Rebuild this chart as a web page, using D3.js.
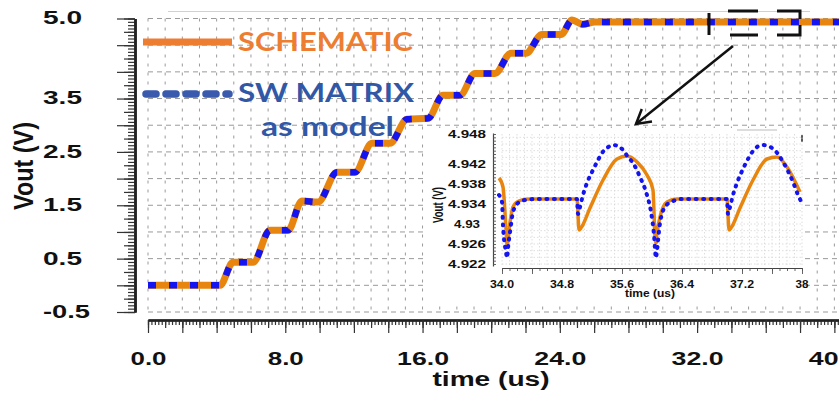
<!DOCTYPE html>
<html><head><meta charset="utf-8">
<script src="https://cdn.jsdelivr.net/npm/d3@7/dist/d3.min.js"></script>
<style>html,body{margin:0;padding:0;background:#fff;}svg{display:block;}</style>
</head><body>
<svg id="c" width="839" height="394"></svg>
<script>
// ---------- DATA ----------
const mainTime      = [0, 4.20, 4.95, 6.12, 7.11, 8.16, 8.97, 9.91, 11.01, 12.06, 13.05, 14.10, 15.09, 16.32, 17.19, 18.18, 19.06, 20.22, 21.15, 22.03, 22.96, 24.07, 24.71, 25.35, 26.05, 40.6];
const schematicMain = [0, 0, 0.43, 0.43, 1.03, 1.03, 1.58, 1.56, 2.12, 2.12, 2.66, 2.66, 3.11, 3.13, 3.56, 3.56, 3.97, 3.97, 4.35, 4.35, 4.70, 4.70, 4.97, 4.89, 4.935, 4.935];
const swMatrixMain  = [0, 0, 0.43, 0.43, 1.03, 1.03, 1.58, 1.56, 2.12, 2.12, 2.66, 2.66, 3.11, 3.13, 3.56, 3.56, 3.97, 3.97, 4.35, 4.35, 4.70, 4.70, 4.97, 4.89, 4.935, 4.935];

const insetTimeSch = [33.96, 34.013, 34.053, 34.067, 34.107, 34.147, 34.2, 34.267, 34.373, 35.0, 35.027, 35.053, 35.173, 35.347, 35.533, 35.667, 35.8, 35.933, 36.013, 36.04, 36.053, 36.067, 36.107, 36.2, 36.333, 37.0, 37.027, 37.053, 37.173, 37.347, 37.533, 37.667, 37.8, 37.973];
const schematicInset = [4.9392, 4.9374, 4.9290, 4.9258, 4.9304, 4.9334, 4.9344, 4.9348, 4.935, 4.935, 4.9288, 4.9292, 4.9332, 4.9388, 4.9430, 4.9436, 4.9424, 4.9398, 4.9368, 4.9274, 4.9262, 4.9282, 4.9314, 4.9344, 4.935, 4.935, 4.9288, 4.9292, 4.9332, 4.9388, 4.9430, 4.9434, 4.9414, 4.9364];

const insetTimeSw = [33.96, 34.0, 34.013, 34.053, 34.067, 34.08, 34.107, 34.147, 34.213, 34.307, 34.44, 35.0, 35.013, 35.04, 35.08, 35.133, 35.2, 35.267, 35.333, 35.4, 35.48, 35.547, 35.613, 35.68, 35.747, 35.84, 35.933, 35.987, 36.027, 36.053, 36.067, 36.107, 36.173, 36.28, 36.413, 37.0, 37.013, 37.04, 37.08, 37.133, 37.213, 37.28, 37.347, 37.467, 37.547, 37.6, 37.68, 37.747, 37.813, 37.88, 37.947, 38.0];
const swMatrixInset = [4.9358, 4.9344, 4.9298, 4.9244, 4.9232, 4.9252, 4.9284, 4.9324, 4.9342, 4.9348, 4.935, 4.935, 4.9320, 4.9334, 4.9358, 4.9382, 4.9404, 4.9424, 4.9442, 4.9452, 4.9458, 4.9456, 4.9448, 4.9434, 4.9422, 4.9394, 4.9358, 4.9324, 4.9278, 4.9232, 4.9248, 4.9302, 4.9334, 4.9346, 4.935, 4.935, 4.9320, 4.9334, 4.9358, 4.9382, 4.9410, 4.9430, 4.9446, 4.9458, 4.9456, 4.9452, 4.9440, 4.9424, 4.9406, 4.9384, 4.9358, 4.9342];

const yLabelVals = [5.0, 3.5, 2.5, 1.5, 0.5, -0.5];
const yLabels    = ["5.0", "3.5", "2.5", "1.5", "0.5", "-0.5"];
const xLabelVals = [0, 8, 16, 24, 32, 40];
const xLabels    = ["0.0", "8.0", "16.0", "24.0", "32.0", "40.0"];
const insetYLabelVals = [4.948, 4.942, 4.938, 4.934, 4.93, 4.926, 4.922];
const insetYLabels    = ["4.948", "4.942", "4.938", "4.934", "4.93", "4.926", "4.922"];
const insetXLabelVals = [34.0, 34.8, 35.6, 36.4, 37.2, 38.0];
const insetXLabels    = ["34.0", "34.8", "35.6", "36.4", "37.2", "38"];
const legendNames = ["SCHEMATIC", "SW MATRIX", "as model"];

// ---------- SETUP ----------
const svg = d3.select('#c');
const FONT = "'Liberation Sans', Arial, sans-serif";
const ORANGE = '#e8850f', BLUE = '#1414f0';

const x = d3.scaleLinear().domain([0, 40.27]).range([148, 839]);
const y = d3.scaleLinear().domain([-0.5, 5]).range([312, 18.5]);
const xi = d3.scaleLinear().domain([34, 38]).range([502, 802]);
const yi = d3.scaleLinear().domain([4.922, 4.948]).range([264, 134]);

// frame top line
svg.append('line').attr('x1',168).attr('x2',810).attr('y1',11.5).attr('y2',11.5).attr('stroke','#c9d3da').attr('stroke-width',1);

// ---------- MAIN GRID ----------
const grid = svg.append('g');
grid.selectAll('line.h').data(d3.range(-0.5, 5.0001, 0.5)).join('line')
  .attr('x1', x(0)).attr('x2', 839).attr('y1', d=>y(d)).attr('y2', d=>y(d))
  .attr('stroke','#9a9a9a').attr('stroke-width',1).attr('stroke-dasharray','5,4');
grid.selectAll('line.v').data(d3.range(0, 40.5, 1)).join('line')
  .attr('x1', d=>x(d)).attr('x2', d=>x(d)).attr('y1', y(5)).attr('y2', y(-0.5))
  .attr('stroke','#9a9a9a').attr('stroke-width',1).attr('stroke-dasharray','3,6');

// ---------- MAIN AXES ----------
function styleAxis(g){ g.select('.domain').attr('stroke','#222').attr('stroke-width',2.2); g.selectAll('.tick line').attr('stroke','#333').attr('stroke-width',1.2); }
const yAx = svg.append('g').attr('transform','translate(135,0)');
yAx.append('g').call(d3.axisLeft(y).tickValues(d3.range(-0.5, 5.0001, 0.0625)).tickSize(7).tickSizeOuter(0).tickFormat('')).call(styleAxis);
yAx.append('g').call(d3.axisLeft(y).tickValues(d3.range(-0.5, 5.0001, 0.25)).tickSize(11).tickSizeOuter(0).tickFormat('')).call(styleAxis);
const yMaj = yAx.append('g').call(d3.axisLeft(y).tickValues(yLabelVals.concat([4.5,4,3,2,1,0])).tickSize(18).tickSizeOuter(0)
  .tickFormat(d => { const i = yLabelVals.indexOf(d); return i >= 0 ? yLabels[i] : ''; })).call(styleAxis);
yMaj.selectAll('.tick text').attr('x', 43-135).attr('dy','0.33em').attr('text-anchor','start')
  .attr('font-family',FONT).attr('font-weight','bold').attr('font-size',18).attr('fill','#111')
  .attr('transform','translate(0,-0.5)')
  .each(function(){ const t = d3.select(this).text(); if(t) d3.select(this).attr('textLength', t.length>3?47:39).attr('lengthAdjust','spacingAndGlyphs'); });

const xAx = svg.append('g').attr('transform','translate(0,320)');
xAx.append('g').call(d3.axisBottom(x).tickValues(d3.range(0, 40.3, 0.2)).tickSize(5).tickSizeOuter(0).tickFormat('')).call(styleAxis);
xAx.append('g').call(d3.axisBottom(x).tickValues(d3.range(0, 40.3, 1)).tickSize(8).tickSizeOuter(0).tickFormat('')).call(styleAxis);
const xMaj = xAx.append('g').call(d3.axisBottom(x).tickValues(d3.range(0, 40.3, 2)).tickSize(13).tickSizeOuter(0)
  .tickFormat(d => { const i = xLabelVals.indexOf(d); return i >= 0 ? xLabels[i] : ''; })).call(styleAxis);
xMaj.selectAll('.tick text').attr('y', 45).attr('dy', 0)
  .attr('font-family',FONT).attr('font-weight','bold').attr('font-size',18).attr('fill','#111')
  .each(function(){ const t = d3.select(this).text(); if(t) d3.select(this).attr('textLength', t.length>3?52:36).attr('lengthAdjust','spacingAndGlyphs'); });

// axis titles
svg.append('text').attr('x',491).attr('y',386).attr('text-anchor','middle')
  .attr('font-family',FONT).attr('font-weight','bold').attr('font-size',20).attr('fill','#111')
  .attr('textLength',117).attr('lengthAdjust','spacingAndGlyphs').text('time (us)');
svg.append('text').attr('transform','translate(33,166) scale(1.45,1) rotate(-90)').attr('text-anchor','middle')
  .attr('font-family',FONT).attr('font-weight','bold').attr('font-size',19).attr('fill','#111')
  .attr('textLength',88).attr('lengthAdjust','spacingAndGlyphs').text('Vout (V)');

// ---------- MAIN CURVES ----------
const mainLine = (vals) => d3.line().x((d,i)=>x(mainTime[i])).y(d=>y(d)).curve(d3.curveMonotoneX)(vals);
svg.append('path').attr('d', mainLine(schematicMain)).attr('fill','none').attr('stroke',ORANGE).attr('stroke-width',7);
svg.append('path').attr('d', mainLine(swMatrixMain)).attr('fill','none').attr('stroke',BLUE).attr('stroke-width',6.5).attr('stroke-dasharray','8,13');

// ---------- LEGEND ----------
svg.append('line').attr('x1',143).attr('x2',232).attr('y1',42).attr('y2',42).attr('stroke','#ed7d31').attr('stroke-width',7);
svg.append('line').attr('x1',146).attr('x2',229).attr('y1',94).attr('y2',94).attr('stroke','#3a5aae').attr('stroke-width',7.5).attr('stroke-dasharray','10,10').attr('stroke-linecap','round');
const LFONT = "Lato, 'Open Sans', sans-serif";
svg.append('text').attr('x',238).attr('y',51).attr('font-family',LFONT).attr('font-weight','bold').attr('font-size',26).attr('fill','#ed7d31')
  .attr('textLength',175).attr('lengthAdjust','spacingAndGlyphs').text(legendNames[0]);
svg.append('text').attr('x',238).attr('y',102).attr('font-family',LFONT).attr('font-weight','bold').attr('font-size',26).attr('fill','#3158a6')
  .attr('textLength',176).attr('lengthAdjust','spacingAndGlyphs').text(legendNames[1]);
svg.append('text').attr('x',261).attr('y',136).attr('font-family',LFONT).attr('font-weight','bold').attr('font-size',26).attr('fill','#3158a6')
  .attr('textLength',133).attr('lengthAdjust','spacingAndGlyphs').text(legendNames[2]);

// ---------- ZOOM BOX & ARROW ----------
const deco = svg.append('g').attr('fill','none').attr('stroke','#111').attr('stroke-width',3);
deco.append('path').attr('d','M709,13 V35');
deco.append('path').attr('d','M728,11 H758 M777,11 H800 V19 M800,25 V35 H777 M758,35 H730');
deco.append('line').attr('x1',733).attr('y1',46).attr('x2',636).attr('y2',124).attr('stroke-width',2.5);
deco.append('path').attr('d','M641.8,109 L636,124 L652,121.6').attr('stroke-width',2.5);

// ---------- INSET ----------
const ins = svg.append('g');
ins.append('rect').attr('x',427).attr('y',128).attr('width',377).attr('height',173).attr('fill','#fff');
ins.append('line').attr('x1',737).attr('x2',777).attr('y1',130).attr('y2',130).attr('stroke','#bbb').attr('stroke-width',1);
ins.append('line').attr('x1',802).attr('x2',802).attr('y1',135).attr('y2',142).attr('stroke','#222').attr('stroke-width',1.5);
// inset grid
ins.selectAll('line.ig').data(d3.range(34, 38.001, 0.1)).join('line')
  .attr('x1',d=>xi(d)).attr('x2',d=>xi(d)).attr('y1',134).attr('y2',266)
  .attr('stroke','#d6d6d6').attr('stroke-width',0.8).attr('stroke-dasharray','1.5,2');
ins.selectAll('line.ih').data(d3.range(4.922, 4.9481, 0.004/3)).join('line')
  .attr('x1',502).attr('x2',802).attr('y1',d=>yi(d)).attr('y2',d=>yi(d))
  .attr('stroke','#d6d6d6').attr('stroke-width',0.8).attr('stroke-dasharray','1.5,2');
// inset axes
function styleIn(g){ g.select('.domain').attr('stroke','#444').attr('stroke-width',1.2); g.selectAll('.tick line').attr('stroke','#555').attr('stroke-width',0.9); }
const yiAx = ins.append('g').attr('transform','translate(493,0)');
yiAx.call(d3.axisRight(yi.copy().range([266,133]).domain([yi.invert(266), yi.invert(133)])).tickValues(d3.range(4.922, 4.948, 0.002/3)).tickSize(3).tickSizeOuter(0).tickFormat('')).call(styleIn);
const xiAx = ins.append('g').attr('transform','translate(0,268)');
xiAx.append('g').call(d3.axisBottom(xi).tickValues(d3.range(34, 38.001, 0.1)).tickSize(3).tickSizeOuter(0).tickFormat('')).call(styleIn);
xiAx.append('g').call(d3.axisBottom(xi).tickValues(d3.range(34, 38.001, 0.4)).tickSize(6).tickSizeOuter(0).tickFormat('')).call(styleIn);
// inset labels
ins.selectAll('text.iy').data(insetYLabelVals).join('text')
  .attr('x',467).attr('y',d=>yi(d)+4).attr('text-anchor','middle')
  .attr('font-family',FONT).attr('font-weight','bold').attr('font-size',11).attr('fill','#111')
  .attr('textLength',(d,i)=> insetYLabels[i].length>4?38:26).attr('lengthAdjust','spacingAndGlyphs')
  .text((d,i)=>insetYLabels[i]);
ins.selectAll('text.ix').data(insetXLabelVals).join('text')
  .attr('x',d=>xi(d)).attr('y',288).attr('text-anchor','middle')
  .attr('font-family',FONT).attr('font-weight','bold').attr('font-size',11).attr('fill','#111')
  .attr('textLength',(d,i)=> insetXLabels[i].length>2?24:13).attr('lengthAdjust','spacingAndGlyphs')
  .text((d,i)=>insetXLabels[i]);
ins.append('text').attr('x',650).attr('y',297).attr('text-anchor','middle')
  .attr('font-family',FONT).attr('font-weight','bold').attr('font-size',10.5).attr('fill','#111')
  .attr('textLength',50).attr('lengthAdjust','spacingAndGlyphs').text('time (us)');
ins.append('text').attr('transform','translate(443,205) scale(1.4,1) rotate(-90)').attr('text-anchor','middle')
  .attr('font-family',FONT).attr('font-weight','bold').attr('font-size',10).attr('fill','#111')
  .attr('textLength',36).attr('lengthAdjust','spacingAndGlyphs').text('Vout (V)');
// inset curves
const schLine = d3.line().x((d,i)=>xi(insetTimeSch[i])).y(d=>yi(d)).curve(d3.curveMonotoneX);
const swLine  = d3.line().x((d,i)=>xi(insetTimeSw[i])).y(d=>yi(d)).curve(d3.curveMonotoneX);
ins.append('path').attr('d', schLine(schematicInset)).attr('fill','none').attr('stroke',ORANGE).attr('stroke-width',3.5).attr('stroke-linejoin','round');
ins.append('path').attr('d', swLine(swMatrixInset)).attr('fill','none').attr('stroke',BLUE).attr('stroke-width',4).attr('stroke-dasharray','1,6.5').attr('stroke-linecap','round');
</script>
</body></html>
